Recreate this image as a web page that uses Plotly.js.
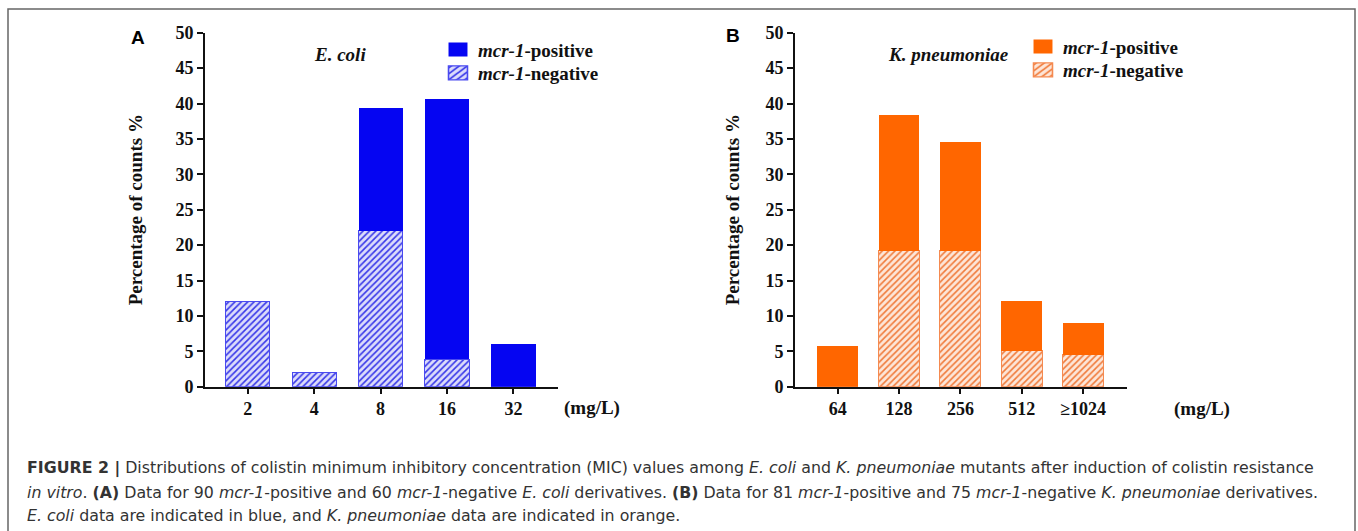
<!DOCTYPE html>
<html>
<head>
<meta charset="utf-8">
<script src="https://cdn.plot.ly/plotly-3.0.1.min.js"></script>
<style>
  html, body { margin: 0; padding: 0; background: #fff; }
  #chart { width: 1358px; height: 531px; }
</style>
</head>
<body>
<div id="chart"></div>
<script>
// ---- Data (percentage of counts %) ----
const categoriesA = ['2', '4', '8', '16', '32'];
const negativeA   = [12.0, 2.0, 22.0, 3.9, 0];
const positiveA   = [0, 0, 17.3, 36.7, 6.0];

const categoriesB = ['64', '128', '256', '512', '≥1024'];
const negativeB   = [0, 19.2, 19.2, 5.1, 4.5];
const positiveB   = [5.75, 19.2, 15.3, 7.0, 4.45];

const yTicks = [0, 5, 10, 15, 20, 25, 30, 35, 40, 45, 50];
const labelPos = '<i>mcr-1</i>-positive';
const labelNeg = '<i>mcr-1</i>-negative';

// ---- Styles ----
const W = 1358, H = 531;
const px = v => v / W;
const py = v => 1 - v / H;
const SERIF = 'Liberation Serif, Times New Roman, serif';
const SANS = 'Liberation Sans, Arial, sans-serif';
const CAPTION = 'DejaVu Sans, Liberation Sans, sans-serif';
const BLUE = '#0505f2';
const ORANGE = '#ff6600';

const traces = [
  { type: 'bar', x: categoriesA, y: negativeA, name: labelNeg, xaxis: 'x', yaxis: 'y', legend: 'legend3',
    marker: { color: '#d9d9fb', line: { color: '#4a4af0', width: 1 },
      pattern: { shape: '/', fgcolor: '#3535e8', bgcolor: '#dcdcfb', size: 4.5, solidity: 0.35 } },
    hoverinfo: 'x+y' },
  { type: 'bar', x: categoriesA, y: positiveA, name: labelPos, xaxis: 'x', yaxis: 'y', legend: 'legend',
    marker: { color: BLUE, line: { color: BLUE, width: 0 } }, hoverinfo: 'x+y' },
  { type: 'bar', x: categoriesB, y: negativeB, name: labelNeg, xaxis: 'x2', yaxis: 'y2', legend: 'legend4',
    marker: { color: '#fde2d2', line: { color: '#f58a50', width: 1 },
      pattern: { shape: '/', fgcolor: '#f07a3a', bgcolor: '#fde6d8', size: 4.5, solidity: 0.35 } },
    hoverinfo: 'x+y' },
  { type: 'bar', x: categoriesB, y: positiveB, name: labelPos, xaxis: 'x2', yaxis: 'y2', legend: 'legend2',
    marker: { color: ORANGE, line: { color: ORANGE, width: 0 } }, hoverinfo: 'x+y' }
];

const yAxisBase = {
  range: [0, 50], tickvals: yTicks, ticks: 'outside', ticklen: 6, tickwidth: 2, tickcolor: '#111',
  showline: true, linecolor: '#111', linewidth: 2, showgrid: false, zeroline: false,
  tickfont: { family: SERIF, size: 18, color: '#111', weight: 'bold' },
  domain: [py(386.7), py(32.7)], fixedrange: true
};
const yTitle = standoff => ({ text: '<b>Percentage of counts %</b>',
  font: { family: SERIF, size: 19, color: '#111' }, standoff: standoff });
const xAxisBase = {
  type: 'category', ticks: 'outside', ticklen: 5, tickwidth: 2, tickcolor: '#111',
  showline: true, linecolor: '#111', linewidth: 2, showgrid: false, zeroline: false,
  tickfont: { family: SERIF, size: 18, color: '#111', weight: 'bold' }, fixedrange: true
};
const legendBase = (x, y) => ({ x: px(x), y: py(y), xanchor: 'left', yanchor: 'middle',
  bgcolor: 'rgba(0,0,0,0)', borderwidth: 0,
  font: { family: SERIF, size: 19, color: '#111', weight: 'bold' } });
const note = (text, x, y, size, family, extra) => Object.assign({
  text: text, xref: 'paper', yref: 'paper', x: px(x), y: py(y), xanchor: 'center', yanchor: 'middle',
  showarrow: false, font: { family: family, size: size, color: '#111' } }, extra || {});
const captionFont = { family: CAPTION, size: 15.8, color: '#333' };

const layout = {
  width: W, height: H,
  margin: { l: 0, r: 0, t: 0, b: 0 },
  paper_bgcolor: '#fff', plot_bgcolor: 'rgba(0,0,0,0)',
  barmode: 'stack', bargap: 0.335,
  showlegend: true,
  xaxis: Object.assign({}, xAxisBase, { domain: [px(205), px(558)], range: [-0.643, 4.67], anchor: 'y' }),
  yaxis: Object.assign({}, yAxisBase, { anchor: 'x', title: yTitle(28) }),
  xaxis2: Object.assign({}, xAxisBase, { domain: [px(795), px(1126.7)], range: [-0.695, 4.71], anchor: 'y2' }),
  yaxis2: Object.assign({}, yAxisBase, { anchor: 'x2', title: yTitle(21) }),
  legend: legendBase(438, 49.7),
  legend3: legendBase(438, 73),
  legend2: legendBase(1023, 46.7),
  legend4: legendBase(1023, 70),
  shapes: [
    { type: 'rect', xref: 'paper', yref: 'paper', x0: px(8), x1: px(1355), y0: -0.05, y1: py(9),
      line: { color: '#666', width: 1.5 }, fillcolor: 'rgba(0,0,0,0)' }
  ],
  annotations: [
    note('<b>A</b>', 138, 37, 19, SANS, { font: { family: SANS, size: 19, color: '#000' } }),
    note('<b>B</b>', 733, 35, 19, SANS, { font: { family: SANS, size: 19, color: '#000' } }),
    note('<b><i>E. coli</i></b>', 340, 55, 19, SERIF),
    note('<b><i>K. pneumoniae</i></b>', 948, 55, 19, SERIF),
    note('<b>(mg/L)</b>', 592, 408, 19, SERIF),
    note('<b>(mg/L)</b>', 1202, 409, 19, SERIF),
    note('<b>FIGURE 2 |</b> Distributions of colistin minimum inhibitory concentration (MIC) values among <i>E. coli</i> and <i>K. pneumoniae</i> mutants after induction of colistin resistance',
      25, 468, 15.8, CAPTION, { xanchor: 'left', font: captionFont }),
    note('<i>in vitro</i>. <b>(A)</b> Data for 90 <i>mcr-1</i>-positive and 60 <i>mcr-1</i>-negative <i>E. coli</i> derivatives. <b>(B)</b> Data for 81 <i>mcr-1</i>-positive and 75 <i>mcr-1</i>-negative <i>K. pneumoniae</i> derivatives.',
      25, 492, 15.8, CAPTION, { xanchor: 'left', font: captionFont }),
    note('<i>E. coli</i> data are indicated in blue, and <i>K. pneumoniae</i> data are indicated in orange.',
      25, 515, 15.8, CAPTION, { xanchor: 'left', font: captionFont })
  ]
};

Plotly.newPlot('chart', traces, layout, { displayModeBar: false, staticPlot: true }).then(() => {
  // enlarge the legend swatches to the wider rectangles of the original figure
  document.querySelectorAll('g.legendpoints path').forEach(p => {
    const t = p.getAttribute('transform') || '';
    p.setAttribute('transform', t + ' scale(1.58,1.17)');
  });
});
</script>
</body>
</html>
